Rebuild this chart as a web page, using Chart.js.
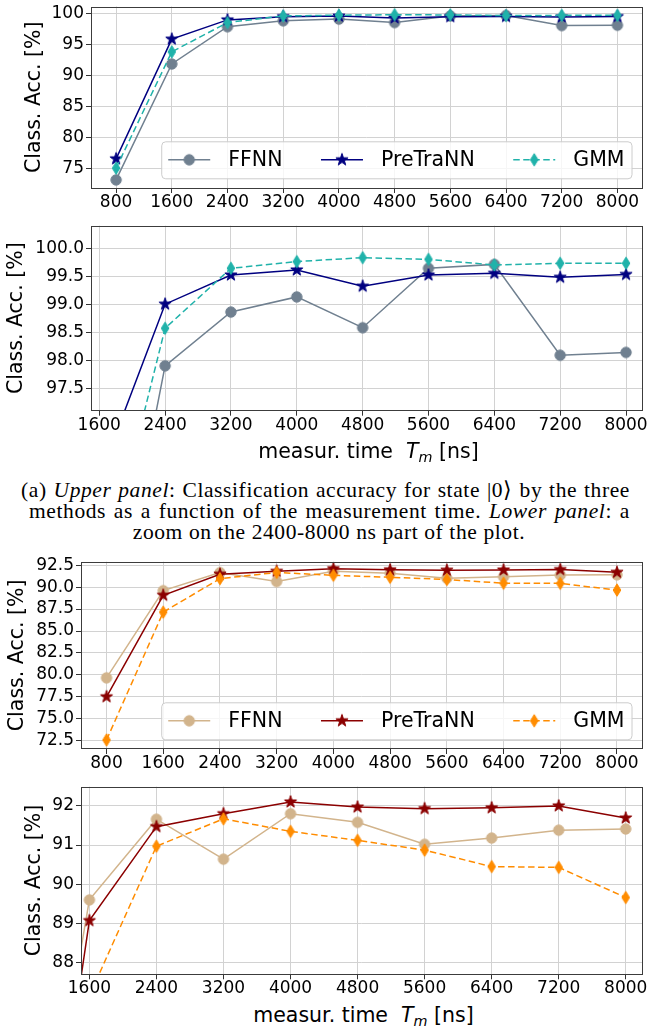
<!DOCTYPE html>
<html>
<head>
<meta charset="utf-8">
<script src="https://cdn.jsdelivr.net/npm/chart.js@4.4.1/dist/chart.umd.min.js"></script>
<style>
  html, body { margin: 0; padding: 0; background: #fff; }
  #page { position: relative; width: 649px; height: 1030px; overflow: hidden; font-family: "DejaVu Sans", sans-serif; color: #000; }
  #page canvas { position: absolute; left: 0; }
  .xtitle { position: absolute; font-size: 20.5px; line-height: 24px; text-align: center; white-space: nowrap; }
  .xtitle sub { font-size: 70%; vertical-align: baseline; position: relative; top: 0.28em; }
  .cap { position: absolute; font-family: "Liberation Serif", serif; font-size: 21.5px; line-height: 21px; letter-spacing: 0.6px; white-space: nowrap; }
  .cap.just { display: flex; justify-content: space-between; }
  .cap.mid { text-align: center; }
</style>
</head>
<body>
<div id="page">
  <canvas id="c0" width="649" height="215" style="top:0px"></canvas>
  <canvas id="c1" width="649" height="225" style="top:215px"></canvas>
  <div class="xtitle" style="left:91px;width:555px;top:438.5px">measur. time&nbsp; <i>T<sub>m</sub></i> [ns]</div>
  <div class="cap just" id="cap1" style="left:21px;width:609px;top:480px"></div>
  <div class="cap just" id="cap2" style="left:29px;width:601px;top:501px"></div>
  <div class="cap mid" id="cap3" style="left:26px;width:606px;top:522px"></div>
  <canvas id="c2" width="649" height="230" style="top:545px"></canvas>
  <canvas id="c3" width="649" height="225" style="top:775px"></canvas>
  <div class="xtitle" style="left:81px;width:565px;top:1002.5px">measur. time&nbsp; <i>T<sub>m</sub></i> [ns]</div>
</div>
<script>
// measurement times (ns)
const times = [800, 1600, 2400, 3200, 4000, 4800, 5600, 6400, 7200, 8000];

// classification accuracy, state |0>
const ffnn0     = [73.2, 91.9, 97.9, 98.86, 99.13, 98.58, 99.64, 99.71, 98.09, 98.14];
const pretrann0 = [76.6, 95.9, 99.0, 99.52, 99.61, 99.32, 99.52, 99.55, 99.48, 99.53];
const gmm0      = [75.1, 93.85, 98.57, 99.64, 99.76, 99.83, 99.80, 99.70, 99.73, 99.73];

// classification accuracy, state |1>
const ffnn1     = [79.66, 89.6, 91.66, 90.64, 91.8, 91.58, 91.02, 91.18, 91.38, 91.41];
const pretrann1 = [77.5, 89.07, 91.47, 91.8, 92.1, 91.97, 91.93, 91.95, 92.0, 91.69];
const gmm1      = [72.58, 87.15, 90.97, 91.67, 91.35, 91.12, 90.87, 90.45, 90.43, 89.66];

const seriesNames = ['FFNN', 'PreTraNN', 'GMM'];

// tick labels
const xTicksFull = times;
const xTicksZoom = times.slice(1);
const yTicksA = [75, 80, 85, 90, 95, 100];
const yTicksB = [97.5, 98.0, 98.5, 99.0, 99.5, 100.0];
const yTicksC = [72.5, 75.0, 77.5, 80.0, 82.5, 85.0, 87.5, 90.0, 92.5];
const yTicksD = [88, 89, 90, 91, 92];

// axis ranges
const xRangeFull = [440, 8360];
const xRangeZoom = [1500, 8200];
const yRangeA = [71.9, 101.16];
const yRangeB = [97.1, 100.4];
const yRangeC = [71.55, 92.9];
const yRangeD = [87.7, 92.49];

const colors0 = ['#708090', '#000080', '#20b2aa'];
const colors1 = ['#d2b48c', '#8b0000', '#ff8c00'];

const FONT = '"DejaVu Sans", sans-serif';
const GRID = '#d2d2d2';

// marker images (filled star / thin diamond like matplotlib)
function markerImg(shape, color) {
  const c = document.createElement('canvas');
  c.width = 18; c.height = 18;
  const g = c.getContext('2d');
  g.fillStyle = color; g.strokeStyle = color; g.lineWidth = 1;
  g.translate(9, 9);
  g.beginPath();
  if (shape === 'circle') {
    g.arc(0, 0, 5.2, 0, Math.PI * 2);
  } else if (shape === 'star') {
    for (let i = 0; i < 10; i++) {
      const r = i % 2 ? 2.5 : 6.4;
      const a = -Math.PI / 2 + i * Math.PI / 5;
      g.lineTo(r * Math.cos(a), r * Math.sin(a));
    }
    g.closePath();
  } else {
    g.moveTo(0, -6.2); g.lineTo(3.8, 0); g.lineTo(0, 6.2); g.lineTo(-3.8, 0);
    g.closePath();
  }
  g.fill(); g.stroke();
  return c;
}

const shapes = ['circle', 'star', 'diamond'];
const dashes = [[], [], [6.5, 3.5]];

function makeDatasets(lists, cols) {
  return lists.map((vals, k) => ({
    label: seriesNames[k],
    data: times.map((t, i) => ({ x: t, y: vals[i] })),
    borderColor: cols[k],
    backgroundColor: cols[k],
    borderWidth: 1.5,
    borderDash: dashes[k],
    pointStyle: markerImg(shapes[k], cols[k]),
    pointRadius: 5,
    pointHoverRadius: 5,
    tension: 0,
    fill: false,
    clip: 0,
    order: 3 - k
  }));
}

// axes frame
const framePlugin = {
  id: 'frame',
  afterDraw(chart) {
    const { ctx, chartArea: a } = chart;
    ctx.save();
    ctx.strokeStyle = '#3c3c3c';
    ctx.lineWidth = 1;
    ctx.strokeRect(Math.round(a.left) + 0.5, Math.round(a.top) + 0.5,
      Math.round(a.right - a.left) - 1, Math.round(a.bottom - a.top) - 1);
    ctx.restore();
  }
};

// matplotlib-like legend in lower right corner
function legendPlugin() {
  return {
    id: 'boxLegend',
    afterDatasetsDraw(chart) {
      const { ctx, chartArea: a } = chart;
      const ds = chart.data.datasets;
      ctx.save();
      ctx.font = '20.5px ' + FONT;
      const lineLen = 42, textGap = 18, colGap = 38.5, padX = 7;
      const widths = ds.map(d => ctx.measureText(d.label).width);
      let total = padX * 2 + colGap * (ds.length - 1);
      widths.forEach(w => total += lineLen + textGap + w);
      const right = a.right - 11, bottom = a.bottom - 9.7, h = 37;
      const left = right - total, top = bottom - h;
      ctx.beginPath();
      ctx.roundRect(left + 0.5, top + 0.5, total, h, 4);
      ctx.fillStyle = 'rgba(255,255,255,0.8)';
      ctx.fill();
      ctx.strokeStyle = '#cccccc';
      ctx.lineWidth = 1;
      ctx.stroke();
      const cy = top + h / 2;
      let x = left + padX;
      ds.forEach((d, k) => {
        ctx.beginPath();
        ctx.setLineDash(d.borderDash);
        ctx.strokeStyle = d.borderColor;
        ctx.lineWidth = d.borderWidth;
        ctx.moveTo(x, cy); ctx.lineTo(x + lineLen, cy);
        ctx.stroke();
        ctx.setLineDash([]);
        const img = d.pointStyle;
        ctx.drawImage(img, x + lineLen / 2 - img.width / 2, cy - img.height / 2);
        ctx.fillStyle = '#000';
        ctx.textBaseline = 'middle';
        ctx.fillText(d.label, x + lineLen + textGap, cy + 1);
        x += lineLen + textGap + widths[k] + colGap;
      });
      ctx.restore();
    }
  };
}

function makeChart(id, cfg) {
  const tickFont = { family: FONT, size: 17, lineHeight: 1 };
  const plugins = [framePlugin];
  if (cfg.legend) plugins.push(legendPlugin());
  return new Chart(document.getElementById(id), {
    type: 'line',
    data: { datasets: cfg.datasets },
    options: {
      responsive: false,
      animation: false,
      events: [],
      layout: { padding: { top: cfg.padTop, right: 3, left: 0, bottom: 0 } },
      plugins: { legend: { display: false }, tooltip: { enabled: false } },
      scales: {
        x: {
          type: 'linear',
          min: cfg.xRange[0], max: cfg.xRange[1],
          afterBuildTicks: s => { s.ticks = cfg.xTicks.map(v => ({ value: v })); },
          afterFit: s => { s.height = cfg.xHeight; s.paddingLeft = 0; s.paddingRight = 0; },
          ticks: { font: tickFont, color: '#000', padding: 1, maxRotation: 0, autoSkip: false,
                   callback: v => String(v) },
          grid: { color: GRID, lineWidth: 1, tickColor: '#333', tickLength: 5, tickWidth: 1 },
          border: { display: false }
        },
        y: {
          min: cfg.yRange[0], max: cfg.yRange[1],
          afterBuildTicks: s => { s.ticks = cfg.yTicks.map(v => ({ value: v })); },
          afterFit: s => { s.width = cfg.yWidth; s.paddingTop = 0; s.paddingBottom = 0; },
          ticks: { font: tickFont, color: '#000', padding: 2, autoSkip: false,
                   callback: v => cfg.yDec ? v.toFixed(cfg.yDec) : String(v) },
          grid: { color: GRID, lineWidth: 1, tickColor: '#333', tickLength: 5, tickWidth: 1 },
          border: { display: false },
          title: { display: true, text: 'Class. Acc. [%]', color: '#000',
                   font: { family: FONT, size: 20.5, lineHeight: 1 },
                   padding: { top: cfg.titlePad, bottom: 0 } }
        }
      }
    },
    plugins: plugins
  });
}

makeChart('c0', { datasets: makeDatasets([ffnn0, pretrann0, gmm0], colors0), legend: true,
  padTop: 4, xHeight: 27, yWidth: 91, titlePad: 24.25,
  xRange: xRangeFull, xTicks: xTicksFull, yRange: yRangeA, yTicks: yTicksA, yDec: 0 });

makeChart('c1', { datasets: makeDatasets([ffnn0, pretrann0, gmm0], colors0), legend: false,
  padTop: 10.7, xHeight: 29.3, yWidth: 91, titlePad: 6.45,
  xRange: xRangeZoom, xTicks: xTicksZoom, yRange: yRangeB, yTicks: yTicksB, yDec: 1 });

makeChart('c2', { datasets: makeDatasets([ffnn1, pretrann1, gmm1], colors1), legend: true,
  padTop: 16.7, xHeight: 26, yWidth: 81, titlePad: 7.55,
  xRange: xRangeFull, xTicks: xTicksFull, yRange: yRangeC, yTicks: yTicksC, yDec: 1 });

makeChart('c3', { datasets: makeDatasets([ffnn1, pretrann1, gmm1], colors1), legend: false,
  padTop: 11.7, xHeight: 25.7, yWidth: 81, titlePad: 24.45,
  xRange: xRangeZoom, xTicks: xTicksZoom, yRange: yRangeD, yTicks: yTicksD, yDec: 0 });

// caption
const captionLines = [
  '(a) _Upper _panel: Classification accuracy for state |0⟩ by the three',
  'methods as a function of the measurement time. _Lower _panel: a',
  'zoom on the 2400-8000 ns part of the plot.'
];
function wordHtml(w) {
  return w.replace(/^_(\w+)/, '<i>$1</i>');
}
['cap1', 'cap2'].forEach((id, i) => {
  document.getElementById(id).innerHTML =
    captionLines[i].split(' ').map(w => '<span>' + wordHtml(w) + '</span>').join('');
});
document.getElementById('cap3').innerHTML = captionLines[2].split(' ').map(wordHtml).join(' ');
</script>
</body>
</html>
